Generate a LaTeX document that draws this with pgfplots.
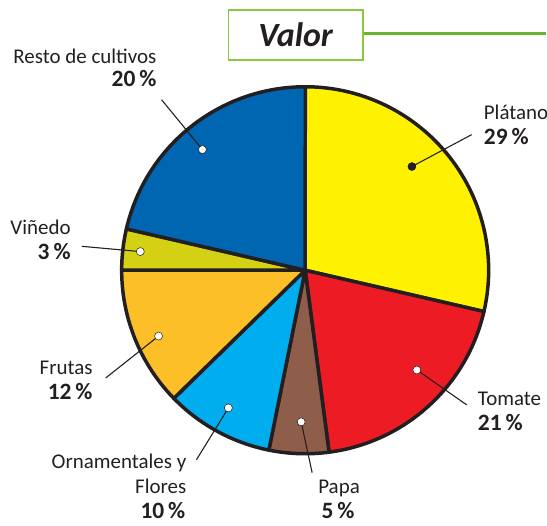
\documentclass[border=0pt]{standalone}
\usepackage{pgfplots}
\usepackage{pgfplotstable}
\pgfplotsset{compat=1.18}
\usepackage{fontspec}
\setmainfont{Carlito}
\definecolor{cPlat}{HTML}{FFF200}
\definecolor{cTom}{HTML}{ED1C24}
\definecolor{cPapa}{HTML}{8F5E4B}
\definecolor{cOrn}{HTML}{00AEEF}
\definecolor{cFru}{HTML}{FDBF27}
\definecolor{cVin}{HTML}{D4D014}
\definecolor{cRes}{HTML}{0066B2}
\definecolor{bord}{HTML}{231F20}
\definecolor{txt}{HTML}{231F20}
\definecolor{gline}{HTML}{6AB42D}
\definecolor{gbox}{HTML}{8CC63F}
\pgfplotstableread{
name value col
Platano 28.61 cPlat
Tomate 19.31 cTom
Papa 5.25 cPapa
Ornamentales 9.53 cOrn
Frutas 12.31 cFru
Vinedo 3.61 cVin
Resto 21.39 cRes
}\piedata
\newcommand{\pct}[1]{{\fontsize{23.5}{25}\selectfont\bfseries #1\,\%}}
\begin{document}
\begin{tikzpicture}
\begin{axis}[x=1pt,y=1pt,xmin=0,xmax=547,ymin=0,ymax=527,hide axis,clip=false]
\draw[draw=none] (rel axis cs:0,0) rectangle (rel axis cs:1,1);
\def\cum{90}
\pgfplotsforeachungrouped \i in {0,...,6}{%
  \pgfplotstablegetelem{\i}{value}\of\piedata \let\sv\pgfplotsretval
  \pgfplotstablegetelem{\i}{col}\of\piedata \let\scol\pgfplotsretval
  \pgfmathsetmacro{\angA}{\cum}%
  \pgfmathsetmacro{\angB}{\cum-3.6*\sv}%
  \edef\temp{\noexpand\filldraw[fill=\scol, draw=bord, line width=3.5pt, line join=round] (axis cs:306,256) -- ++(\angA:184pt) arc[start angle=\angA, end angle=\angB, radius=184pt] -- cycle;}%
  \temp
  \global\let\cum\angB
}
% leader lines
\addplot[txt, line width=1.1pt] coordinates {(413,360) (473,392)};
\addplot[txt, line width=1.1pt] coordinates {(418,156) (468,121)};
\addplot[txt, line width=1.1pt] coordinates {(302,104) (313,53)};
\addplot[txt, line width=1.1pt] coordinates {(229,118) (197,66)};
\addplot[txt, line width=1.1pt] coordinates {(159,190) (106,148)};
\addplot[txt, line width=1.1pt] coordinates {(140.7,274.7) (82,280)};
\addplot[txt, line width=1.1pt] coordinates {(203,377) (162,427)};
% dots
\addplot[only marks, mark=*, mark size=4pt, mark options={fill=white, draw=none}] coordinates {(418,156) (302,104) (229,118) (159,190) (140.7,274.7) (203,377)};
\addplot[only marks, mark=*, mark size=4pt, mark options={fill=txt, draw=none}] coordinates {(413,360)};
% labels
\begin{scope}[every node/.style={text=txt, font=\fontsize{21}{25}\selectfont, inner sep=0pt}]
\node[anchor=base east] at (axis cs:157,463) {Resto de cultivos};
\node[anchor=base east] at (axis cs:157,440) {\pct{20}};
\node[anchor=base west, overlay] at (axis cs:485,407) {Plátano};
\node[anchor=base west] at (axis cs:485,382) {\pct{29}};
\node[anchor=base west] at (axis cs:479,120.3) {Tomate};
\node[anchor=base west] at (axis cs:479,95.3) {\pct{21}};
\node[anchor=base] at (axis cs:340,32) {Papa};
\node[anchor=base] at (axis cs:339,7.5) {\pct{5}};
\node[anchor=base east] at (axis cs:187,57.5) {Ornamentales y};
\node[anchor=base east] at (axis cs:187,32.5) {Flores};
\node[anchor=base east] at (axis cs:186,7.5) {\pct{10}};
\node[anchor=base east] at (axis cs:93,151.3) {Frutas};
\node[anchor=base east] at (axis cs:93,126) {\pct{12}};
\node[anchor=base east] at (axis cs:71,292) {Viñedo};
\node[anchor=base east] at (axis cs:71,267) {\pct{3}};
\end{scope}
% title
\addplot[gline, line width=3pt] coordinates {(364,493.7) (547,493.7)};
\node[draw=gbox, line width=1.6pt, fill=white, minimum width=135pt, minimum height=50pt, inner sep=0pt, text=txt, font=\fontsize{34}{40}\selectfont\bfseries\itshape] at (axis cs:296.5,491.7) {Valor};
\end{axis}
\end{tikzpicture}
\end{document}
